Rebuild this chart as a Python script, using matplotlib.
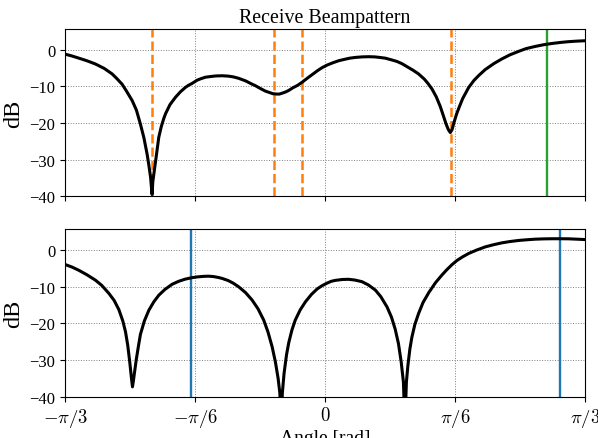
import numpy as np
import matplotlib.pyplot as plt

plt.rcParams['font.family'] = ['Liberation Serif', 'DejaVu Serif']
plt.rcParams['mathtext.fontset'] = 'cm'

# top: beampattern with interferer nulls (angles in rad, gain in dB)
theta_top = [-1.048, -1.02, -0.992, -0.96, -0.925, -0.89, -0.858, -0.84, -0.818, -0.80,
             -0.777, -0.76, -0.744, -0.73, -0.717, -0.71, -0.703, -0.699, -0.697, -0.694,
             -0.690, -0.686, -0.680, -0.670, -0.660, -0.650, -0.643, -0.625, -0.603, -0.583,
             -0.563, -0.55, -0.536, -0.515, -0.50, -0.482, -0.46, -0.44, -0.415, -0.39,
             -0.37, -0.348, -0.32, -0.30, -0.281, -0.26, -0.24, -0.227, -0.21, -0.195,
             -0.184, -0.17, -0.158, -0.146, -0.13, -0.11, -0.093, -0.07, -0.05, -0.03,
             -0.012, 0.008, 0.03, 0.055, 0.08, 0.10, 0.122, 0.15, 0.176, 0.20,
             0.22, 0.243, 0.27, 0.29, 0.31, 0.33, 0.355, 0.377, 0.40, 0.415,
             0.431, 0.448, 0.464, 0.476, 0.487, 0.497, 0.505, 0.512, 0.520, 0.530,
             0.540, 0.555, 0.579, 0.60, 0.62, 0.646, 0.68, 0.713, 0.745, 0.780,
             0.81, 0.847, 0.88, 0.914, 0.95, 0.981, 1.015, 1.047]
gain_top = [-1.2, -1.7, -2.3, -3.0, -3.9, -5.1, -6.6, -7.8, -9.4, -11.3,
            -13.9, -16.5, -20.3, -24.0, -28.5, -31.5, -34.8, -38.0, -39.5, -36.0,
            -34.0, -32.0, -29.0, -23.9, -21.0, -18.8, -17.5, -15.0, -13.0, -11.5,
            -10.3, -9.7, -9.2, -8.3, -7.9, -7.5, -7.3, -7.15, -7.1, -7.2,
            -7.4, -7.8, -8.5, -9.2, -9.8, -10.6, -11.3, -11.6, -12.0, -12.1,
            -12.1, -11.8, -11.5, -11.1, -10.4, -9.7, -8.9, -7.7, -6.7, -5.7,
            -4.9, -4.2, -3.6, -3.0, -2.6, -2.3, -2.1, -1.95, -1.9, -1.95,
            -2.1, -2.3, -2.8, -3.2, -3.8, -4.6, -5.6, -6.6, -8.0, -9.2,
            -10.7, -12.8, -15.4, -17.8, -20.1, -21.8, -22.6, -21.8, -19.8, -17.6,
            -15.8, -13.3, -10.3, -8.4, -7.0, -5.4, -3.8, -2.5, -1.4, -0.45,
            0.3, 0.9, 1.35, 1.7, 2.0, 2.2, 2.35, 2.45]
interferers = [-0.697, -0.205, -0.091, 0.507]
desired = 0.893

# bottom: second beampattern
theta_bot = [-1.048, -1.02, -0.992, -0.96, -0.925, -0.90, -0.871, -0.85, -0.831, -0.815,
             -0.804, -0.795, -0.787, -0.780, -0.776, -0.772, -0.766, -0.761, -0.752, -0.744,
             -0.728, -0.710, -0.69, -0.670, -0.645, -0.616, -0.59, -0.563, -0.536, -0.515,
             -0.49, -0.47, -0.45, -0.43, -0.415, -0.39, -0.37, -0.348, -0.32, -0.294,
             -0.27, -0.247, -0.23, -0.213, -0.20, -0.189, -0.182, -0.177, -0.172, -0.165,
             -0.155, -0.146, -0.133, -0.120, -0.10, -0.079, -0.055, -0.032, -0.012, 0.008,
             0.025, 0.041, 0.07, 0.095, 0.12, 0.149, 0.175, 0.203, 0.225, 0.250,
             0.268, 0.283, 0.296, 0.307, 0.316, 0.322, 0.328, 0.334, 0.342, 0.350,
             0.362, 0.377, 0.395, 0.418, 0.445, 0.471, 0.49, 0.511, 0.532, 0.555,
             0.579, 0.61, 0.646, 0.68, 0.713, 0.745, 0.780, 0.815, 0.847, 0.88,
             0.914, 0.95, 0.981, 1.015, 1.047]
gain_bot = [-3.9, -4.6, -5.5, -6.7, -8.2, -9.6, -11.8, -13.7, -16.2, -19.3,
            -22.3, -26.0, -30.5, -35.0, -37.3, -35.5, -32.5, -30.0, -26.2, -23.0,
            -19.3, -16.4, -14.1, -12.3, -10.7, -9.3, -8.5, -7.9, -7.5, -7.3,
            -7.15, -7.1, -7.2, -7.45, -7.7, -8.3, -9.0, -10.0, -11.6, -13.6,
            -16.0, -19.1, -22.3, -26.4, -30.5, -35.0, -39.0, -48.0, -39.0, -33.6,
            -28.5, -25.2, -21.7, -19.1, -16.3, -14.1, -12.1, -10.6, -9.7, -9.0,
            -8.5, -8.25, -8.0, -7.95, -8.15, -8.6, -9.5, -10.9, -12.7, -15.5,
            -18.3, -21.6, -25.5, -30.5, -36.0, -48.0, -36.0, -31.5, -27.0, -23.8,
            -20.3, -17.3, -14.3, -11.6, -8.9, -6.8, -5.4, -4.0, -2.8, -1.8,
            -0.9, 0.0, 0.9, 1.5, 2.0, 2.35, 2.65, 2.85, 3.0, 3.08,
            3.12, 3.12, 3.1, 3.0, 2.9]
markers_bot = [-0.542, 0.949]

xticks = [-np.pi/3, -np.pi/6, 0, np.pi/6, np.pi/3]
xticklabels = [r'$-\pi/3$', r'$-\pi/6$', r'$0$', r'$\pi/6$', r'$\pi/3$']

fig, (ax1, ax2) = plt.subplots(2, 1, sharex=True, figsize=(5.98, 4.39), dpi=100)
fig.subplots_adjust(left=0.109, right=0.978, top=0.932, bottom=0.094, hspace=0.197)

ax1.plot(theta_top, gain_top, color='black', lw=2.2, zorder=3)
for a in interferers:
    ax1.axvline(a, color='tab:orange', ls='--', lw=1.8)
ax1.axvline(desired, color='tab:green', lw=1.7)
ax1.set_title('Receive Beampattern', fontsize=14.4, pad=5)

ax2.plot(theta_bot, gain_bot, color='black', lw=2.2, zorder=3)
for a in markers_bot:
    ax2.axvline(a, color='tab:blue', lw=1.7)

for ax in (ax1, ax2):
    ax.set_ylim(-40, 5.7)
    ax.set_yticks([0, -10, -20, -30, -40])
    ax.set_ylabel('dB', fontsize=17.5)
    ax.grid(True, color='gray', ls=':', lw=0.7)
    ax.tick_params(labelsize=12)

ax2.set_xlim(-np.pi/3, np.pi/3)
ax2.set_xticks(xticks)
ax2.set_xticklabels(xticklabels, fontsize=13.5)
ax2.set_xlabel('Angle [rad]', fontsize=14, labelpad=0)

fig.savefig('out.png', dpi=100)
